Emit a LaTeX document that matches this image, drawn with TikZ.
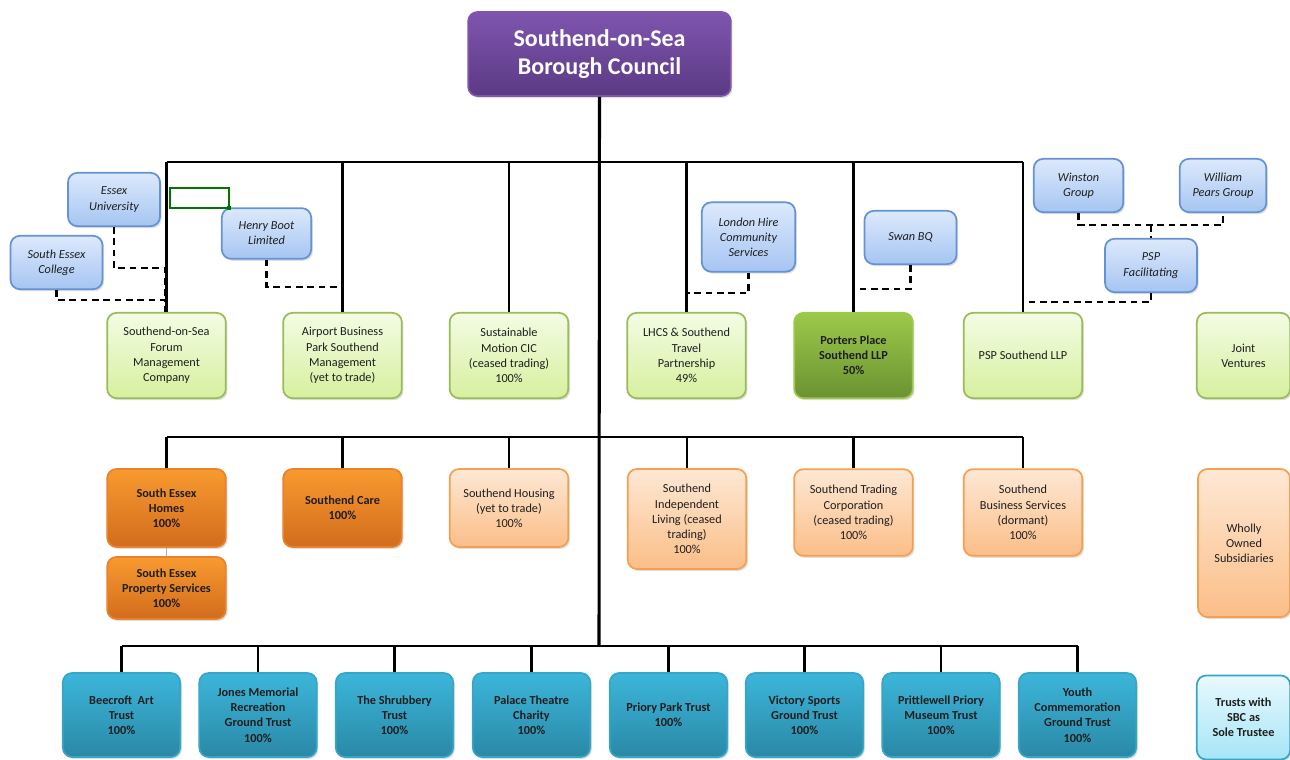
\documentclass[tikz,border=0pt]{standalone}
\usepackage{fontspec}
\setmainfont{Carlito}
\usepackage{xcolor}
\usepackage{tikz}
\usetikzlibrary{shadows}

\definecolor{purpTop}{HTML}{7F55AE}\definecolor{purpBot}{HTML}{5B3A85}
\definecolor{lgTop}{HTML}{F3FCE4}\definecolor{lgBot}{HTML}{D6F09E}\definecolor{lgLine}{HTML}{9BBB59}
\definecolor{dgTop}{HTML}{9CC94A}\definecolor{dgBot}{HTML}{6B9232}
\definecolor{blTop}{HTML}{DCE9FC}\definecolor{blBot}{HTML}{A6C5F2}\definecolor{blLine}{HTML}{6592D4}
\definecolor{doTop}{HTML}{F89A30}\definecolor{doBot}{HTML}{D26C1C}\definecolor{doLine}{HTML}{E9822A}
\definecolor{loTop}{HTML}{FEE8D4}\definecolor{loBot}{HTML}{FBBE88}\definecolor{loLine}{HTML}{F5A050}
\definecolor{tlTop}{HTML}{3CB6DA}\definecolor{tlBot}{HTML}{2A88A6}\definecolor{tlLine}{HTML}{35A5C8}
\definecolor{ltTop}{HTML}{E8F9FE}\definecolor{ltBot}{HTML}{A6E5F6}
\definecolor{txt}{HTML}{1E1E1E}

\tikzset{
  box/.style={rounded corners=7pt,line width=1.3pt,align=center,inner sep=2pt,text=txt,
    font=\fontsize{9.2}{11.4}\selectfont,minimum width=89pt,minimum height=64pt,
    drop shadow={opacity=0.25,shadow xshift=1.2pt,shadow yshift=-1.5pt}},
  jvbox/.style={box,draw=lgLine,top color=lgTop,bottom color=lgBot},
  llpbox/.style={box,draw=dgTop,top color=dgTop,bottom color=dgBot,font=\fontsize{9.2}{11.4}\selectfont\bfseries},
  partner/.style={box,draw=blLine,top color=blTop,bottom color=blBot,minimum width=69pt,minimum height=40pt,
    font=\fontsize{9.2}{11.4}\selectfont\itshape},
  subbox/.style={box,draw=doLine,top color=doTop,bottom color=doBot,minimum height=58.5pt,
    font=\fontsize{9.2}{11.4}\selectfont\bfseries},
  sublight/.style={box,draw=loLine,top color=loTop,bottom color=loBot,minimum height=58.5pt},
  trust/.style={box,draw=tlLine,top color=tlTop,bottom color=tlBot,minimum width=88pt,minimum height=63pt,
    font=\fontsize{9.2}{11.4}\selectfont\bfseries},
  wire/.style={line width=1.6pt,black},
  assoc/.style={line width=1.8pt,black,dash pattern=on 5pt off 3.5pt}
}

\begin{document}
\begin{tikzpicture}[x=0.75pt,y=-0.75pt]
  \useasboundingbox (0,0) rectangle (1290,760);
  % top
  \node[box,draw=purpTop,top color=purpTop,bottom color=purpBot,text=white,minimum width=197pt,minimum height=63pt,
    font=\fontsize{18}{21}\selectfont\bfseries] (council) at (599.5,54) {Southend-on-Sea\\Borough Council};
  \coordinate (bus1) at (599,162); \coordinate (bus2) at (599,437); \coordinate (bus3) at (599,646);

  % joint ventures
  \node[jvbox] (forum) at (166.5,355.5) {Southend-on-Sea\\Forum\\Management\\Company};
  \node[jvbox] (airport) at (342.5,355.5) {Airport Business\\Park Southend\\Management\\(yet to trade)};
  \node[jvbox] (motion) at (509,355.5) {Sustainable\\Motion CIC\\(ceased trading)\\100\%};
  \node[jvbox] (lhcs) at (686.5,355.5) {LHCS \& Southend\\Travel\\Partnership\\49\%};
  \node[llpbox] (porters) at (853.5,355.5) {Porters Place\\Southend LLP\\50\%};
  \node[jvbox] (psp) at (1023,355.5) {PSP Southend LLP};
  \node[jvbox,minimum width=70pt] (jv) at (1243.5,355.5) {Joint\\Ventures};

  \node[partner] (essexuni) at (114,199.5) {Essex\\University};
  \node[partner] (secollege) at (56.5,262.5) {South Essex\\College};
  \node[partner,minimum width=67pt,minimum height=38pt] (henryboot) at (266.5,233.5) {Henry Boot\\Limited};
  \node[partner,minimum width=70pt,minimum height=52pt] (londonhire) at (748.5,237) {London Hire\\Community\\Services};
  \node[partner] (swanbq) at (910.5,237.5) {Swan BQ};
  \node[partner,minimum width=67pt] (winston) at (1078.5,185.5) {Winston\\Group};
  \node[partner,minimum width=65pt] (pears) at (1223,185.5) {William\\Pears Group};
  \node[partner] (pspfac) at (1151,265.5) {PSP\\Facilitating};
  \draw[green!45!black,line width=0.9pt] (170,188) rectangle (229,208);
  \fill[green!45!black] (227,206) rectangle (231,210);

  % wholly owned
  \node[subbox] (seh) at (166.5,508) {South Essex\\Homes\\100\%};
  \node[subbox,minimum height=46.5pt] (seps) at (166.5,588) {South Essex\\Property Services\\100\%};
  \node[subbox] (care) at (342.5,508) {Southend Care\\100\%};
  \node[sublight] (housing) at (509,508) {Southend Housing\\(yet to trade)\\100\%};
  \node[sublight,minimum height=75pt] (sil) at (687,519) {Southend\\Independent\\Living (ceased\\trading)\\100\%};
  \node[sublight,minimum height=65pt] (stc) at (853.5,512.5) {Southend Trading\\Corporation\\(ceased trading)\\100\%};
  \node[sublight,minimum height=65pt] (sbs) at (1023,512.5) {Southend\\Business Services\\(dormant)\\100\%};
  \node[sublight,minimum width=69pt,minimum height=111pt] (wos) at (1244,543) {Wholly\\Owned\\Subsidiaries};

  % trusts
  \node[trust] (beecroft) at (121.5,715) {Beecroft~ Art\\Trust\\100\%};
  \node[trust] (jones) at (258,715) {Jones Memorial\\Recreation\\Ground Trust\\100\%};
  \node[trust] (shrubbery) at (394.5,715) {The Shrubbery\\Trust\\100\%};
  \node[trust] (palace) at (531.5,715) {Palace Theatre\\Charity\\100\%};
  \node[trust] (priory) at (668.5,715) {Priory Park Trust\\100\%};
  \node[trust] (victory) at (804.5,715) {Victory Sports\\Ground Trust\\100\%};
  \node[trust] (prittlewell) at (941,715) {Prittlewell Priory\\Museum Trust\\100\%};
  \node[trust] (youth) at (1077.5,715) {Youth\\Commemoration\\Ground Trust\\100\%};
  \node[trust,draw=tlLine,top color=ltTop,bottom color=ltBot,minimum width=70pt] (trusts) at (1243.5,717.5) {Trusts with\\SBC as\\Sole Trustee};

  % lines
  \draw[line width=2.3pt] (council.south) -- (bus3);
  \draw[wire] (forum.north |- bus1) -- (psp.north |- bus1);
  \foreach \n in {forum,airport,motion,lhcs,porters,psp} \draw[wire] (\n.north) -- (\n.north |- bus1);
  \draw[wire] (seh.north |- bus2) -- (sbs.north |- bus2);
  \foreach \n in {seh,care,housing,sil,stc,sbs} \draw[wire] (\n.north) -- (\n.north |- bus2);
  \draw[wire] (beecroft.north |- bus3) -- (youth.north |- bus3);
  \foreach \n in {beecroft,jones,shrubbery,palace,priory,victory,prittlewell,youth} \draw[wire] (\n.north) -- (\n.north |- bus3);
  \draw[blue!35,line width=0.8pt] (seh.south) -- (seps.north);

  \coordinate (kneeEU) at (165,268); \coordinate (kneeSC) at (165,300); \coordinate (kneeHB) at (341,287);
  \coordinate (kneeLH) at (688,293); \coordinate (kneeSB) at (854,289); \coordinate (kneeWP) at (1151,225);
  \coordinate (kneePF) at (1028,302);
  \draw[assoc] (essexuni.south) |- (kneeEU) -- (kneeSC);
  \draw[assoc] (secollege.south) |- (kneeSC) -- (forum.north -| kneeSC);
  \draw[assoc] (henryboot.south) |- (kneeHB);
  \draw[assoc] (londonhire.south) |- (kneeLH);
  \draw[assoc] (swanbq.south) |- (kneeSB);
  \draw[assoc] (winston.south) |- (kneeWP -| pears.south) -- (pears.south);
  \draw[assoc] (kneeWP) -- (pspfac.north);
  \draw[assoc] (pspfac.south) |- (kneePF);
\end{tikzpicture}
\end{document}
